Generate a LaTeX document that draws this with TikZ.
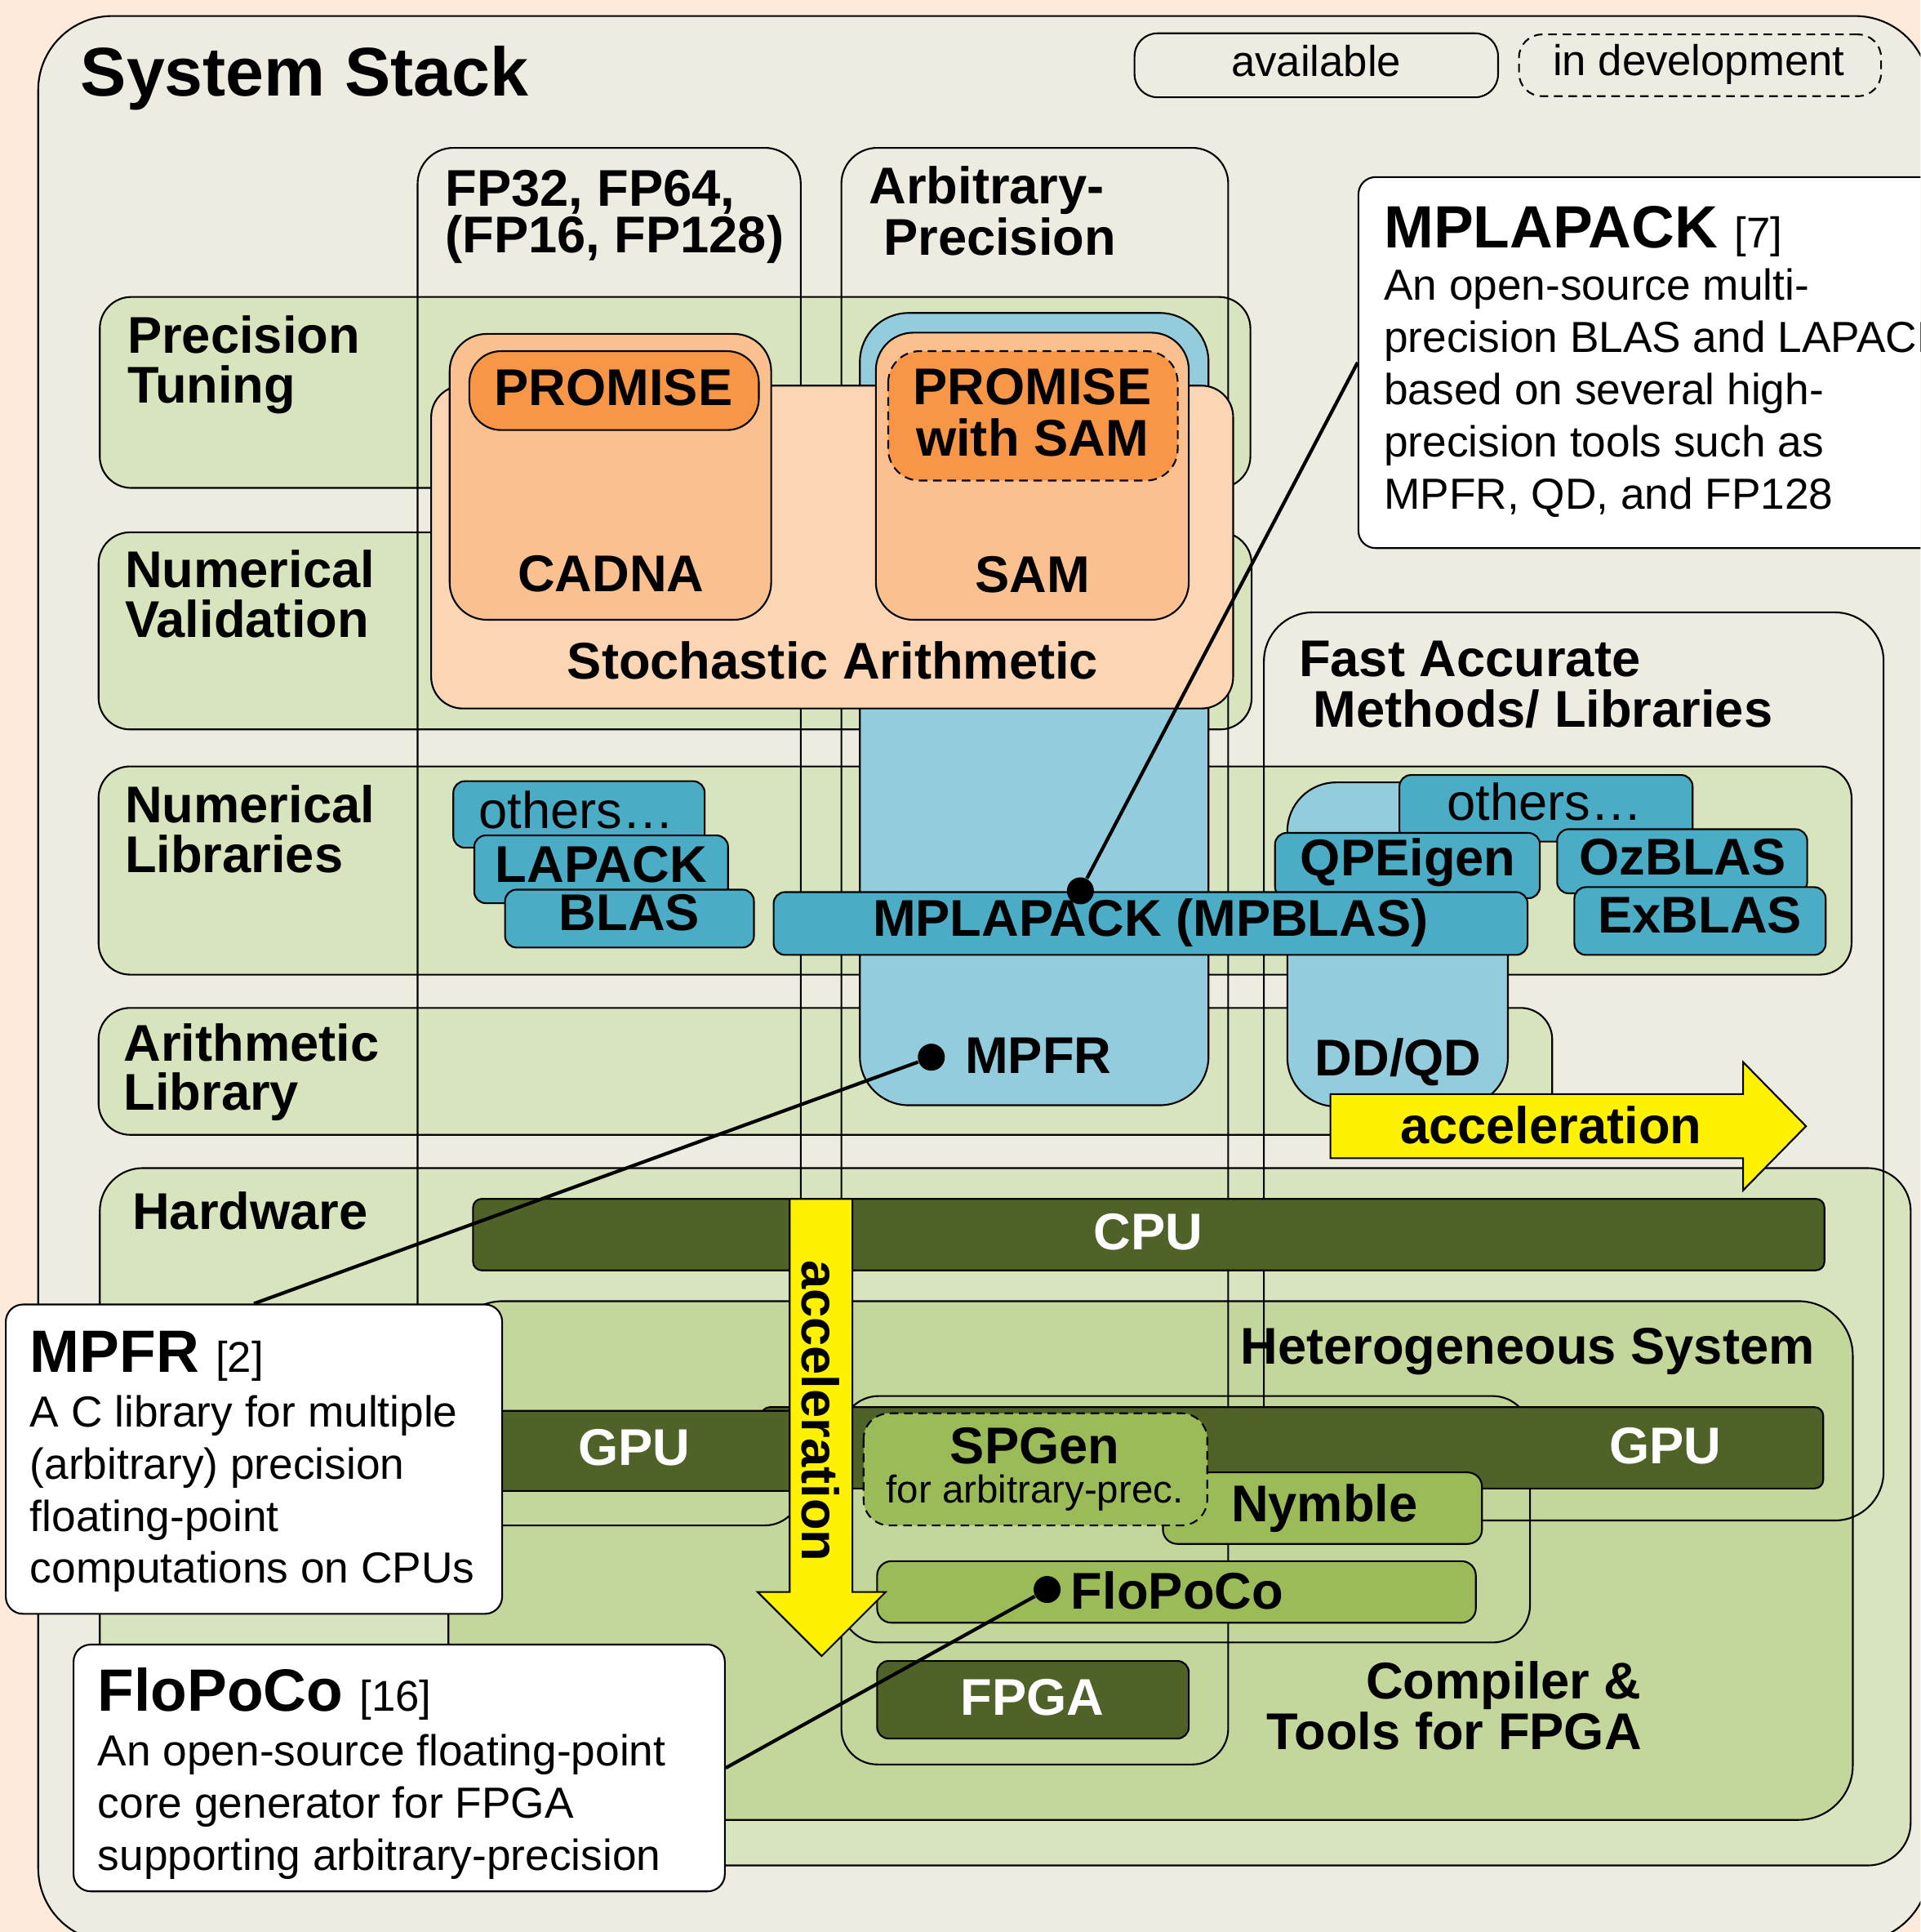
\documentclass[tikz,border=0pt]{standalone}
\usepackage{fontspec}
\setmainfont{Liberation Sans}
\definecolor{peachbg}{HTML}{FDEADA}
\definecolor{stackbg}{HTML}{EEECE1}
\definecolor{rowgreen}{HTML}{D7E4BD}
\definecolor{hetgreen}{HTML}{C3D69B}
\definecolor{hwdark}{HTML}{4F6228}
\definecolor{toolgreen}{HTML}{9BBB59}
\definecolor{libblue}{HTML}{4BACC6}
\definecolor{arithblue}{HTML}{93CDDD}
\definecolor{stochpeach}{HTML}{FCD5B5}
\definecolor{validorange}{HTML}{FAC090}
\definecolor{tuneorange}{HTML}{F79646}
\newcommand\reffont{\mdseries\fontsize{15}{18}\selectfont}

\begin{document}
\begin{tikzpicture}[x=0.01509cm, y=-0.01509cm,
        box/.style={draw, line width=0.6pt},
        rowbox/.style={box, fill=rowgreen, rounded corners=11pt},
        colbox/.style={box, rounded corners=12.5pt},
        libbox/.style={box, fill=libblue, rounded corners=4pt},
        hwbox/.style={box, fill=hwdark, rounded corners=3pt},
        toolbox/.style={box, fill=toolgreen, rounded corners=5pt},
        devline/.style={dash pattern=on 3pt off 2pt},
        boost/.style={box, fill=yellow},
        lbl/.style={inner sep=0pt, align=left, font=\fontsize{18}{17.2}\selectfont\bfseries},
        wlbl/.style={lbl, text=white},
        lbltxt/.style={inner sep=0pt, font=\fontsize{18}{17.2}\selectfont},
        legtxt/.style={inner sep=0pt, font=\fontsize{15}{18}\selectfont},
        notebox/.style={box, fill=white, rounded corners=6pt, anchor=north west, inner sep=0pt},
        notetitle/.style={inner sep=0pt, anchor=base west, font=\fontsize{20.8}{24}\selectfont\bfseries},
        notetext/.style={inner sep=0pt, anchor=base west, align=left, font=\fontsize{15.15}{18.2}\selectfont},
        joint/.style={circle, fill=black, inner sep=0pt, minimum size=9.4pt},
        link/.style={line width=1.2pt}]
    \useasboundingbox (0,0) rectangle (1559,1568);
    \clip (0,0) rectangle (1559,1568);
    \fill[peachbg] (0,0) rectangle (1559,1568);
    \draw[box, fill=stackbg, rounded corners=25.8pt] (31,13) rectangle (1566,1576);

    % layers
    \draw[rowbox] (81,241) rectangle (1015,396);
    \draw[rowbox] (80,432) rectangle (1016,592);
    \draw[rowbox] (80,622) rectangle (1503,791);
    \draw[rowbox] (80,818) rectangle (1260,921);
    \draw[rowbox, rounded corners=15pt] (81,948) rectangle (1551,1514);
    \draw[box, fill=hetgreen, rounded corners=19pt] (364,1056) rectangle (1504,1477);

    % precision columns
    \draw[colbox] (339,120) rectangle (650,1238);
    \draw[colbox] (683,120) rectangle (997,1432);
    \draw[colbox, rounded corners=17pt] (1026,497) rectangle (1529,1234);

    \draw[box, fill=arithblue, rounded corners=17pt] (698,254) rectangle (981,897);
    \draw[box, fill=arithblue, rounded corners=17pt] (1045,635) rectangle (1224,898);

    \draw[box, fill=stochpeach, rounded corners=11pt] (350,313) rectangle (1001,575);
    \draw[box, fill=validorange, rounded corners=13pt] (365,271) rectangle (626,503);
    \draw[box, fill=validorange, rounded corners=13pt] (711,270) rectangle (965,503);
    \draw[box, fill=tuneorange, rounded corners=11pt] (381,285) rectangle (616,349);
    \draw[box, devline, fill=tuneorange, rounded corners=11pt] (721,285) rectangle (956,390);

    \draw[libbox] (368,634) rectangle (572,688);
    \draw[libbox] (385,678) rectangle (591,733);
    \draw[libbox] (410,722) rectangle (612,769);
    \draw[libbox] (1136,629) rectangle (1374,683);
    \draw[libbox] (1035,676) rectangle (1250,729);
    \draw[libbox] (628,724) rectangle (1240,775);
    \draw[libbox] (1264,673) rectangle (1467,725);
    \draw[libbox] (1278,720) rectangle (1482,775);

    \draw[box, rounded corners=13pt] (683,1133) rectangle (1242,1333);
    \draw[hwbox] (384,973) rectangle (1481,1031);
    \draw[hwbox] (618,1142) rectangle (1480,1208);
    \draw[hwbox] (390,1145) rectangle (662,1210);
    \draw[hwbox, rounded corners=4pt] (712,1348) rectangle (965,1411);
    \draw[toolbox] (944,1195) rectangle (1203,1253);
    \draw[toolbox, devline, rounded corners=9pt] (701,1147) rectangle (980,1238);
    \draw[toolbox] (712,1267) rectangle (1198,1317);

    \draw[boost] (1080,888) -- (1415,888) -- (1415,862) -- (1466,914) -- (1415,966) -- (1415,940) -- (1080,940) -- cycle;
    \draw[boost] (641,973) -- (692,973) -- (692,1292) -- (719,1292) -- (667,1344) -- (615,1292) -- (641,1292) -- cycle;

    % labels (multi-line nodes sit on their last baseline)
    \node[inner sep=0pt, anchor=base west, font=\fontsize{24}{28}\selectfont\bfseries] (title) at (65,78) {System Stack};
    \node[lbl, anchor=base west, font=\fontsize{18}{16.3}\selectfont\bfseries] (fphead) at (361,205) {FP32, FP64,\\(FP16, FP128)};
    \node[lbl, anchor=base west, font=\fontsize{18}{16.5}\selectfont\bfseries] (arbhead) at (705,207) {Arbitrary-\\\hspace*{.28em}Precision};
    \node[lbl, anchor=base west, font=\fontsize{18}{17.6}\selectfont\bfseries] (fasthead) at (1054,590) {Fast Accurate\\\hspace*{.28em}Methods/ Libraries};
    \node[lbl, anchor=base west] (ptune) at (103,327) {Precision\\Tuning};
    \node[lbl, anchor=base west] (nval) at (101,517) {Numerical\\Validation};
    \node[lbl, anchor=base west] (nlib) at (101,708) {Numerical\\Libraries};
    \node[lbl, anchor=base west] (alib) at (100,901) {Arithmetic\\Library};
    \node[lbl, anchor=base west] (hw) at (107,998) {Hardware};

    \node[lbl, anchor=base] (stoch) at (676,551) {Stochastic Arithmetic};
    \node[lbl, anchor=base] (cadna) at (496,480) {CADNA};
    \node[lbl, anchor=base] (sam) at (838,481) {SAM};
    \node[lbl, anchor=base] (promise) at (498,329) {PROMISE};
    \node[lbl, anchor=base, align=center, font=\fontsize{18}{18}\selectfont\bfseries] (promisesam) at (838,370) {PROMISE\\with SAM};

    \node[lbltxt, anchor=base] (otherslo) at (468,672) {others…};
    \node[lbl, anchor=base] (lapack) at (488,716) {LAPACK};
    \node[lbl, anchor=base] (blas) at (511,755) {BLAS};
    \node[lbl, anchor=base] (mplapack) at (934,760) {MPLAPACK (MPBLAS)};
    \node[lbltxt, anchor=base] (othershi) at (1254,666) {others…};
    \node[lbl, anchor=base] (qpeigen) at (1143,711) {QPEigen};
    \node[lbl, anchor=base] (ozblas) at (1366,710) {OzBLAS};
    \node[lbl, anchor=base] (exblas) at (1380,757) {ExBLAS};
    \node[lbl, anchor=base west] (mpfr) at (783,871) {MPFR};
    \node[lbl, anchor=base] (ddqd) at (1135,873) {DD/QD};

    \node[lbl, anchor=base] (accelh) at (1259,928) {acceleration};
    \node[lbl, rotate=-90] (accelv) at (666,1145) {acceleration};

    \node[wlbl, anchor=base] (cpu) at (932,1014) {CPU};
    \node[wlbl, anchor=base] (gpulo) at (515,1189) {GPU};
    \node[wlbl, anchor=base] (gpuhi) at (1352,1188) {GPU};
    \node[wlbl, anchor=base] (fpga) at (838,1392) {FPGA};
    \node[lbl, anchor=base] (hetero) at (1240,1107) {Heterogeneous System};
    \node[lbl, anchor=base] (spgen) at (840,1188) {SPGen};
    \node[inner sep=0pt, anchor=base, font=\fontsize{13.5}{16}\selectfont] (spgensub) at (840,1220) {for arbitrary-prec.};
    \node[lbl, anchor=base west] (nymble) at (999,1235) {Nymble};
    \node[lbl, anchor=base west] (flopoco) at (869,1306) {FloPoCo};
    \node[lbl, anchor=base east, align=right, font=\fontsize{18}{16.3}\selectfont\bfseries] (compiler) at (1333,1420) {Compiler \&\\Tools for FPGA};

    % callouts
    \node[joint] (mplapackdot) at (877,723) {};
    \node[joint] (mpfrdot) at (756,858) {};
    \node[joint] (flopocodot) at (850,1290) {};

    \node[notebox, minimum width=220pt, minimum height=129.3pt] (mplapacknote) at (1102,143) {};
    \node[notebox, minimum width=173pt, minimum height=107.8pt] (mpfrnote) at (4,1058) {};
    \node[notebox, minimum width=227pt, minimum height=86pt] (flopoconote) at (59,1334) {};
    \draw[link] (mplapacknote.west) -- (mplapackdot);
    \draw[link] (mpfrnote.north) -- (mpfrdot);
    \draw[link] (flopoconote.east) -- (flopocodot);

    \node[notetitle] (mplapacktitle) at (1123,201) {MPLAPACK {\reffont[7]}};
    \node[notetext] (mplapacktext) at (1123,413) {An open-source multi-\\precision BLAS and LAPACK\\based on several high-\\precision tools such as\\MPFR, QD, and FP128};
    \node[notetitle] (mpfrtitle) at (24,1114) {MPFR {\reffont[2]}};
    \node[notetext] (mpfrtext) at (24,1285) {A C library for multiple\\(arbitrary) precision\\floating-point\\computations on CPUs};
    \node[notetitle] (flopocotitle) at (79,1389) {FloPoCo {\reffont[16]}};
    \node[notetext] (flopocotext) at (79,1518) {An open-source floating-point\\core generator for FPGA\\supporting arbitrary-precision};

    % legend
    \node[box, rounded corners=8pt, minimum width=126.7pt, minimum height=22.3pt, inner sep=0pt] (legavail) at (1068.5,53) {};
    \node[box, devline, rounded corners=8pt, minimum width=126.2pt, minimum height=21.5pt, inner sep=0pt] (legdev) at (1380,53) {};
    \node[legtxt, anchor=base] (legavailtxt) at (1068.5,62) {available};
    \node[legtxt, anchor=base] (legdevtxt) at (1379,61) {in development};
\end{tikzpicture}
\end{document}
